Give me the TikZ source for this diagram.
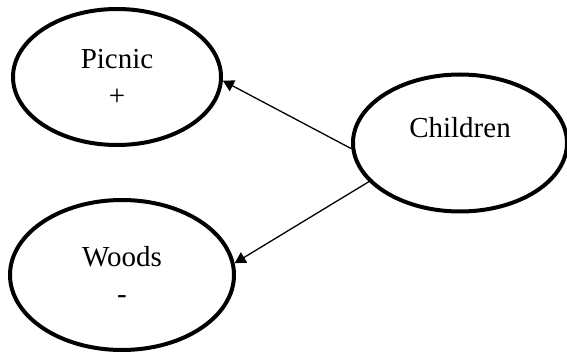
\documentclass[tikz,border=0pt]{standalone}
\usepackage{fontspec}
\setmainfont{Liberation Serif}
\usetikzlibrary{shapes.geometric,arrows.meta}
\begin{document}
\begin{tikzpicture}[x=0.5pt,y=-0.5pt,
  blob/.style={draw,ellipse,line width=2pt,inner sep=0pt,align=center,
    font=\fontsize{14.5}{18.5}\selectfont},
  link/.style={line width=0.65pt,-{Triangle[length=5.5pt,width=6pt]}}]
\useasboundingbox (0,0) rectangle (567,352);
% the three ovals
\node[blob,minimum width=104pt,minimum height=68pt] (picnic) at (117,77) {Picnic\\+};
\node[blob,minimum width=107pt,minimum height=68.5pt] (kids) at (460,143) {Children\\[-8pt]\strut};
\node[blob,minimum width=112pt,minimum height=75pt] (woods) at (122,275) {Woods\\-};
% arrows out of Children
\draw[link] (kids.183) -- (picnic.358);
\draw[link] (kids.203) -- (woods.6);
\end{tikzpicture}
\end{document}
